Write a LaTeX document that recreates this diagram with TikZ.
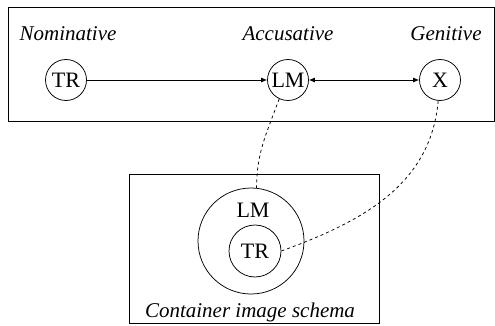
\documentclass[tikz,border=0pt]{standalone}
\usepackage{fontspec}
\setmainfont{Liberation Serif}
\newfontfamily\figserif{Liberation Serif}
\usetikzlibrary{arrows.meta}
\begin{document}
\begin{tikzpicture}[x=1pt,y=-1pt,
  every node/.style={font=\figserif\fontsize{22}{26}\selectfont},
  frame/.style={draw, line width=0.8pt},
  role/.style={draw, circle, minimum size=41pt, inner sep=0pt, line width=0.75pt},
  case/.style={font=\figserif\fontsize{21}{24}\selectfont\itshape, anchor=base},
  arr/.style={line width=0.75pt, -{Latex[length=6pt,width=5pt]}},
  darr/.style={line width=0.75pt, {Latex[length=6pt,width=5pt]}-{Latex[length=6pt,width=5pt]}},
  link/.style={dashed, line width=0.75pt}]
\useasboundingbox (0,0) rectangle (495,326);
\draw[frame] (8,7) rectangle (494,121);
\draw[frame] (129,174) rectangle (379,323);
\node[case] (nom) at (68,41) {Nominative};
\node[case] (acc) at (288,41) {Accusative};
\node[case] (gen) at (446,41) {Genitive};
\node[role] (tr) at (66,80) {TR};
\node[role] (lm) at (288,80) {LM};
\node[role] (x) at (440,80) {X};
\draw[arr] (tr) -- (lm);
\draw[darr] (lm) -- (x);
\node[draw, circle, minimum size=106pt, inner sep=0pt, line width=0.75pt] (outer) at (251,241) {};
\node (lmin) at (253,210) {LM};
\node[role, minimum size=52pt] (inner) at (255,251) {TR};
\node[case] (cont) at (250,317) {Container image schema};
\draw[link] (lm.-115) to[out=-110,in=90] (outer.84);
\draw[link] (x.-95) to[out=-95,in=20] (inner.east);
\end{tikzpicture}
\end{document}
